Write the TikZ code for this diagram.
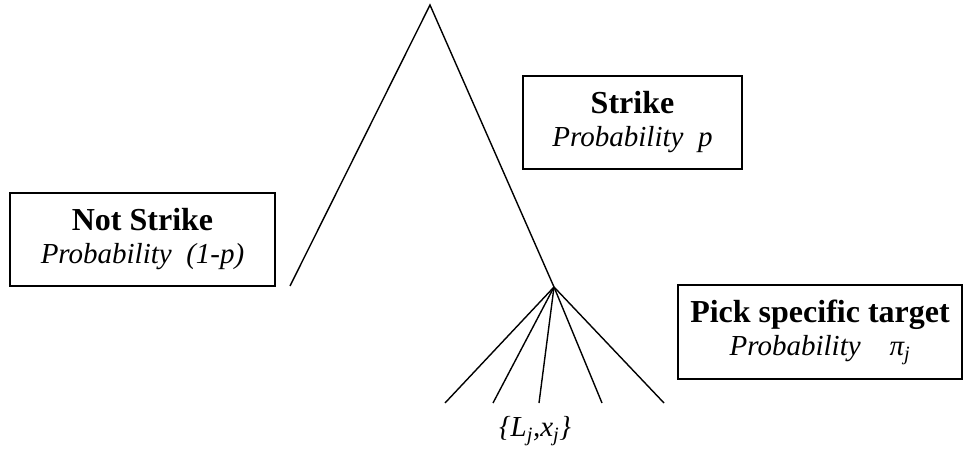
\documentclass[tikz,border=0pt]{standalone}
\usepackage{fontspec}
\usepackage{xcolor}
\usepackage{tikz}
\setmainfont{Liberation Serif}

\newcommand{\boldline}[1]{{\fontsize{32}{34}\selectfont\textbf{#1}}}
\newcommand{\probline}[1]{{\fontsize{29}{33}\selectfont\textit{#1}}}

\begin{document}
\begin{tikzpicture}[x=1pt, y=1pt,
    branch/.style={line width=1.4pt},
    probbox/.style={draw, line width=1.4pt, align=center, inner sep=0pt,
        font=\fontsize{29}{33}\selectfont}]
    \useasboundingbox (0,0) rectangle (965,453);

    % Points of the tree
    \coordinate (root) at (430, 448);
    \coordinate (nostrike) at (290, 167);
    \coordinate (strike) at (554, 166);
    \coordinate (t1) at (445, 50);
    \coordinate (t2) at (493, 50);
    \coordinate (t3) at (539, 50);
    \coordinate (t4) at (602, 50);
    \coordinate (t5) at (664, 50);

    % Draw the branches
    \draw[branch] (nostrike) -- (root) -- (strike);
    \foreach \t in {t1, t2, t3, t4, t5}
        \draw[branch] (strike) -- (\t);

    % Labels in the boxes
    \node[probbox, minimum width=265pt, minimum height=93pt] (nsbox) at (142.5, 213.5)
        {\boldline{Not Strike}\\ \probline{Probability\ \ (1-p)}};
    \node[probbox, minimum width=219pt, minimum height=93pt] (sbox) at (632.5, 330.5)
        {\boldline{Strike}\\ \probline{Probability\ \ p}};
    \node[probbox, minimum width=284pt, minimum height=94pt] (pbox) at (820, 121)
        {\boldline{Pick specific target}\\ \probline{Probability\ \ \ \ π\textsubscript{j}}};

    % Outcome label
    \node (outcome) at (535, 22) {\probline{\{L\textsubscript{j},x\textsubscript{j}\}}};
\end{tikzpicture}
\end{document}
